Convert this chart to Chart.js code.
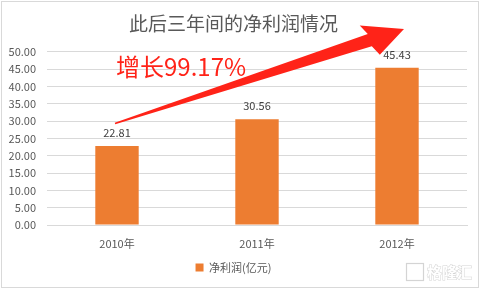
<!DOCTYPE html>
<html>
<head>
<meta charset="utf-8">
<script src="https://cdn.jsdelivr.net/npm/chart.js@4"></script>
<style>
  html, body { margin: 0; padding: 0; background: #fff; }
  #wrap { width: 481px; height: 289px; position: relative; }
</style>
</head>
<body>
<div id="wrap"><canvas id="chart_profit"></canvas></div>
<script>
'use strict';

const YEARS = ['2010年', '2011年', '2012年'];
const NET_PROFIT = [22.81, 30.56, 45.43];
const Y_TICKS = [0, 5, 10, 15, 20, 25, 30, 35, 40, 45, 50];
const GROWTH_TEXT = '增长99.17%';

const COLORS = {
  bar: '#ED7D31',
  text: '#595959',
  grid: '#d9d9d9',
  red: '#ff2318'
};

const FONT = '"Noto Sans CJK SC", "DejaVu Sans", sans-serif';

// frame, value labels, growth arrow and logo
const extras = {
  id: 'extras',
  afterDatasetsDraw(chart) {
    const ctx = chart.ctx;
    const x = chart.scales.x;
    const y = chart.scales.y;
    const meta = chart.getDatasetMeta(0);

    ctx.save();
    // value labels over bars
    ctx.font = '11px ' + FONT;
    ctx.fillStyle = '#404040';
    ctx.textAlign = 'center';
    ctx.textBaseline = 'middle';
    meta.data.forEach((bar, i) => {
      ctx.fillText(NET_PROFIT[i].toFixed(2), bar.x, bar.y - 13);
    });

    // tapered arrow from first year up past the last
    const x0 = x.getPixelForValue(0) - 2, y0 = y.getPixelForValue(29.3);
    const x1 = x.getPixelForValue(2) + 7, y1 = y.getPixelForValue(56.6);
    const ang = Math.atan2(y1 - y0, x1 - x0);
    const len = Math.hypot(x1 - x0, y1 - y0);
    const headLen = 36, headHalf = 17, shaftHalf = 6.5;
    ctx.translate(x0, y0);
    ctx.rotate(ang);
    ctx.beginPath();
    ctx.moveTo(0, -0.8);
    ctx.lineTo(len - headLen, -shaftHalf);
    ctx.lineTo(len - headLen - 5, -headHalf);
    ctx.lineTo(len, 0);
    ctx.lineTo(len - headLen + 5, headHalf);
    ctx.lineTo(len - headLen, shaftHalf);
    ctx.lineTo(0, 0.8);
    ctx.closePath();
    ctx.fillStyle = COLORS.red;
    ctx.fill();
    ctx.setTransform(1, 0, 0, 1, 0, 0);

    // growth text
    ctx.font = '24px ' + FONT;
    ctx.textAlign = 'left';
    ctx.fillStyle = COLORS.red;
    ctx.fillText(GROWTH_TEXT, 116, 67);

    // logo
    ctx.strokeStyle = '#d4d4d4';
    ctx.lineWidth = 1.2;
    ctx.strokeRect(406.5, 263.5, 17, 17);
    ctx.font = 'bold 15px ' + FONT;
    ctx.fillStyle = '#fff';
    ctx.lineWidth = 1;
    ctx.strokeText('格隆汇', 427, 272);
    ctx.fillText('格隆汇', 427, 272);

    // chart border
    ctx.strokeStyle = '#d9d9d9';
    ctx.strokeRect(1.5, 1.5, 477, 286);
    ctx.restore();
  }
};

new Chart(document.querySelector('#chart_profit'), {
  type: 'bar',
  data: {
    labels: YEARS,
    datasets: [{
      label: '净利润(亿元)',
      data: NET_PROFIT,
      backgroundColor: COLORS.bar,
      categoryPercentage: 1,
      barPercentage: 0.31
    }]
  },
  options: {
    responsive: true,
    maintainAspectRatio: false,
    animation: false,
    layout: { padding: { left: 0, right: 14, top: 0, bottom: 6 } },
    plugins: {
      title: {
        display: true,
        text: '此后三年间的净利润情况',
        color: COLORS.text,
        font: { family: FONT, size: 19, weight: 'normal' },
        padding: { top: 12, bottom: 17 }
      },
      legend: {
        position: 'bottom',
        labels: {
          color: COLORS.text,
          font: { family: FONT, size: 11 },
          boxWidth: 8,
          boxHeight: 8,
          padding: 7
        }
      },
      tooltip: { enabled: false }
    },
    scales: {
      x: {
        afterFit(scale) { scale.height = 30; },
        grid: { display: false },
        border: { color: COLORS.grid },
        ticks: { color: COLORS.text, font: { family: FONT, size: 11 }, padding: 4 }
      },
      y: {
        min: 0,
        max: 50,
        afterBuildTicks(scale) {
          scale.ticks = Y_TICKS.map(v => ({ value: v }));
        },
        afterFit(scale) { scale.width = 47; },
        grid: { color: COLORS.grid, drawTicks: false },
        border: { display: false },
        ticks: {
          color: COLORS.text,
          font: { family: FONT, size: 11 },
          padding: 11,
          callback: v => Number(v).toFixed(2)
        }
      }
    }
  },
  plugins: [extras]
});
</script>
</body>
</html>
